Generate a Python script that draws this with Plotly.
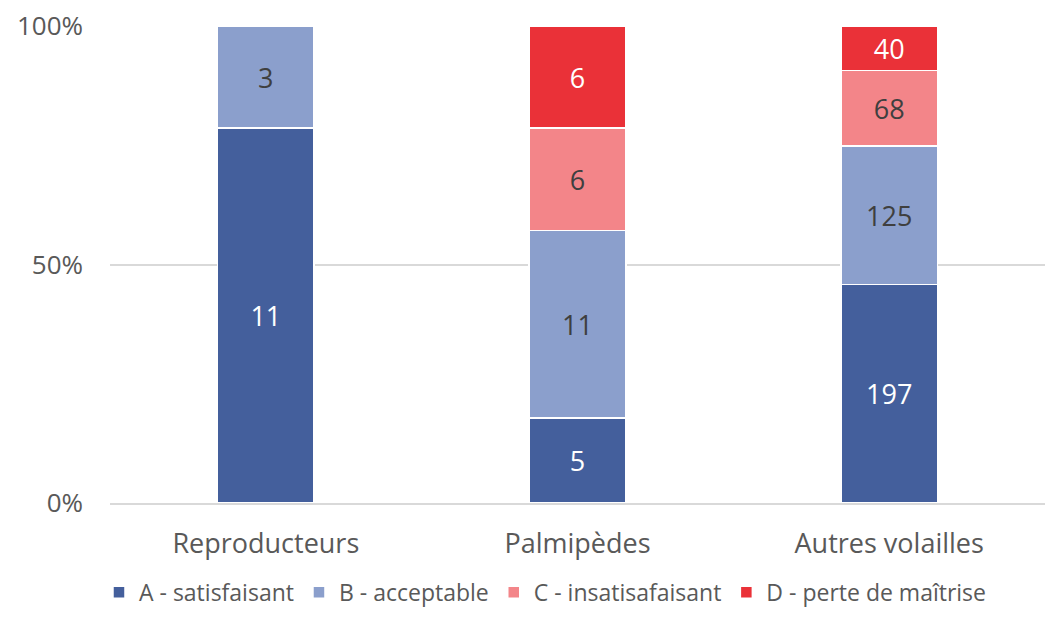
import plotly.graph_objects as go

# categories and counts per level
categories = ["Reproducteurs", "Palmipèdes", "Autres volailles"]
levels = ["A - satisfaisant", "B - acceptable", "C - insatisafaisant", "D - perte de maîtrise"]
counts_a = [11, 5, 197]
counts_b = [3, 11, 125]
counts_c = [0, 6, 68]
counts_d = [0, 6, 40]

y_ticks = [0, 50, 100]
y_labels = ["0%", "50%", "100%"]

colors = ["#445f9c", "#8b9fcc", "#f38589", "#ea3138"]
text_colors = ["white", "#3f3f3f", "#3f3f3f", "white"]
FONT = "Open Sans"

fig = go.Figure()

for name, vals, col, tcol in zip(levels, [counts_a, counts_b, counts_c, counts_d], colors, text_colors):
    fig.add_trace(go.Bar(
        x=categories, y=vals, name=name,
        marker=dict(color=col, line=dict(color="white", width=1.5)),
        text=[str(v) if v else "" for v in vals],
        textposition="inside", insidetextanchor="middle", textangle=0,
        textfont=dict(size=27, color=tcol, family=FONT),
        hoverinfo="x+y+name",
    ))

fig.update_layout(
    barmode="stack", barnorm="percent",
    width=1045, height=617,
    margin=dict(l=110, r=0, t=26, b=114),
    bargap=0.69,
    plot_bgcolor="white", paper_bgcolor="white",
    font=dict(family=FONT, size=24, color="#595959"),
    legend=dict(
        orientation="h", xref="container", yref="container",
        x=0.522, xanchor="center", y=0.005, yanchor="bottom",
        font=dict(size=23, color="#595959"), itemwidth=30, traceorder="normal",
    ),
)

fig.update_yaxes(
    range=[0, 100], tickvals=y_ticks, ticktext=y_labels,
    tickfont=dict(size=26, color="#595959"),
    showgrid=True, gridcolor="#d9d9d9", gridwidth=1.5,
    zeroline=False, ticklabelstandoff=26, automargin=False,
)
fig.update_xaxes(
    showline=True, linecolor="#d9d9d9", linewidth=1.5, ticks="",
    tickfont=dict(size=27, color="#595959"), ticklabelstandoff=16, automargin=False,
)

page_fix = (
    "document.body.style.margin='0';"
    "document.body.style.overflow='hidden';"
    "document.documentElement.style.overflow='hidden';"
)
fig.write_html("out.html", config={"displayModeBar": False}, post_script=page_fix)
